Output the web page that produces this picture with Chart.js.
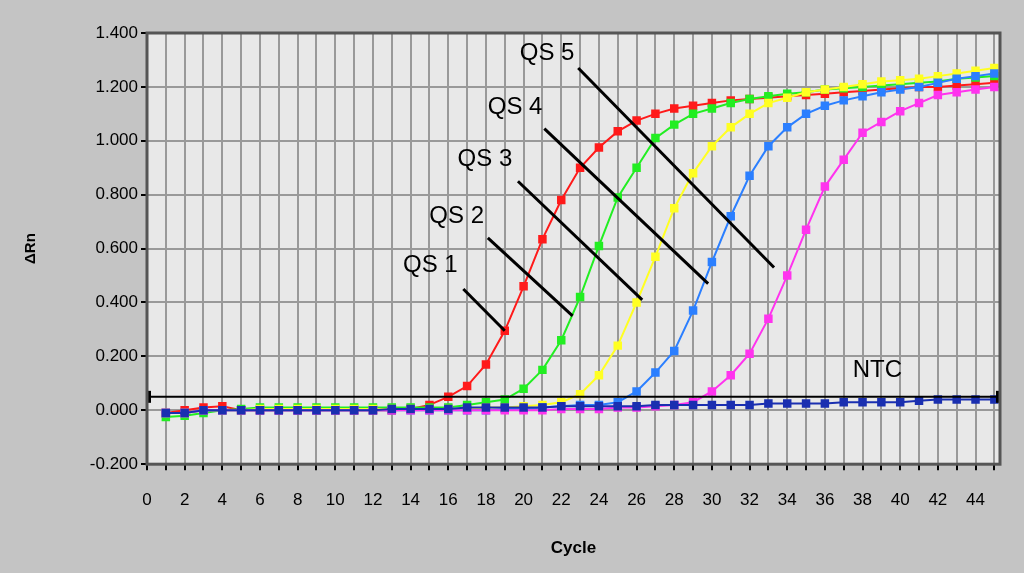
<!DOCTYPE html>
<html>
<head>
<meta charset="utf-8">
<script src="https://cdn.jsdelivr.net/npm/chart.js@4"></script>
<style>
  html, body { margin: 0; padding: 0; background: #c4c4c4; }
  #wrap { width: 1024px; height: 573px; }
</style>
</head>
<body>
<div id="wrap"><canvas id="chart" width="1024" height="573"></canvas></div>
<script>
// Data
const cycles = Array.from({ length: 45 }, (_, i) => i + 1);
const qs1 = [-0.01, 0.0, 0.01, 0.015, 0.0, 0.0, 0.0, 0.0, 0.0, 0.0, 0.0, 0.0, 0.0, 0.005, 0.02, 0.05, 0.09, 0.17, 0.295, 0.46, 0.635, 0.78, 0.9, 0.975, 1.035, 1.075, 1.1, 1.12, 1.13, 1.14, 1.15, 1.155, 1.16, 1.165, 1.17, 1.175, 1.18, 1.185, 1.19, 1.195, 1.2, 1.2, 1.205, 1.21, 1.215];
const qs2 = [-0.025, -0.02, -0.01, 0.0, 0.005, 0.01, 0.01, 0.01, 0.01, 0.01, 0.01, 0.01, 0.01, 0.01, 0.01, 0.01, 0.02, 0.03, 0.04, 0.08, 0.15, 0.26, 0.42, 0.61, 0.79, 0.9, 1.01, 1.06, 1.1, 1.12, 1.14, 1.155, 1.165, 1.175, 1.18, 1.19, 1.195, 1.2, 1.205, 1.21, 1.215, 1.22, 1.23, 1.235, 1.24];
const qs3 = [-0.01, -0.01, 0.0, 0.0, 0.0, 0.005, 0.005, 0.005, 0.005, 0.005, 0.005, 0.005, 0.005, 0.005, 0.005, 0.005, 0.005, 0.01, 0.01, 0.015, 0.02, 0.03, 0.06, 0.13, 0.24, 0.4, 0.57, 0.75, 0.88, 0.98, 1.05, 1.1, 1.14, 1.16, 1.18, 1.19, 1.2, 1.21, 1.22, 1.225, 1.23, 1.24, 1.25, 1.26, 1.27];
const qs4 = [-0.01, -0.01, 0.0, 0.0, 0.0, 0.0, 0.0, 0.0, 0.0, 0.0, 0.0, 0.0, 0.0, 0.0, 0.0, 0.0, 0.0, 0.0, 0.005, 0.005, 0.01, 0.015, 0.02, 0.02, 0.03, 0.07, 0.14, 0.22, 0.37, 0.55, 0.72, 0.87, 0.98, 1.05, 1.1, 1.13, 1.15, 1.165, 1.18, 1.19, 1.2, 1.215, 1.23, 1.24, 1.25];
const qs5 = [-0.01, -0.01, 0.0, 0.0, 0.0, 0.0, 0.0, 0.0, 0.0, 0.0, 0.0, 0.0, 0.0, 0.0, 0.0, 0.0, 0.0, 0.0, 0.0, 0.0, 0.0, 0.005, 0.005, 0.005, 0.01, 0.01, 0.015, 0.02, 0.03, 0.07, 0.13, 0.21, 0.34, 0.5, 0.67, 0.83, 0.93, 1.03, 1.07, 1.11, 1.14, 1.17, 1.18, 1.19, 1.2];
const ntc = [-0.01, -0.01, 0.0, 0.0, 0.0, 0.0, 0.0, 0.0, 0.0, 0.0, 0.0, 0.0, 0.005, 0.005, 0.005, 0.005, 0.01, 0.01, 0.01, 0.01, 0.01, 0.015, 0.015, 0.015, 0.015, 0.015, 0.02, 0.02, 0.02, 0.02, 0.02, 0.02, 0.025, 0.025, 0.025, 0.025, 0.03, 0.03, 0.03, 0.03, 0.035, 0.04, 0.04, 0.04, 0.04];
const threshold = 0.05;
const yTicks = [-0.2, 0, 0.2, 0.4, 0.6, 0.8, 1.0, 1.2, 1.4];

// Callout labels: text position and leader line in data units
const callouts = [
  { text: 'QS 1', tx: 16.5, ty: 0.495, x1: 16.8, y1: 0.45, x2: 19, y2: 0.295 },
  { text: 'QS 2', tx: 17.9, ty: 0.675, x1: 18.1, y1: 0.64, x2: 22.6, y2: 0.35 },
  { text: 'QS 3', tx: 19.4, ty: 0.885, x1: 19.7, y1: 0.85, x2: 26.3, y2: 0.41 },
  { text: 'QS 4', tx: 21.0, ty: 1.08, x1: 21.1, y1: 1.045, x2: 29.8, y2: 0.47 },
  { text: 'QS 5', tx: 22.7, ty: 1.28, x1: 22.9, y1: 1.27, x2: 33.3, y2: 0.53 },
  { text: 'NTC', tx: 40.1, ty: 0.105 }
];

const series = [
  { label: 'NTC', data: ntc, color: '#1a2fb0' },
  { label: 'QS 5', data: qs5, color: '#ff33ee' },
  { label: 'QS 4', data: qs4, color: '#2b7fff' },
  { label: 'QS 3', data: qs3, color: '#ffff22' },
  { label: 'QS 2', data: qs2, color: '#22ee22' },
  { label: 'QS 1', data: qs1, color: '#ff1a1a' }
];

// Plot background, threshold line and callouts
const decor = {
  id: 'decor',
  beforeDraw(chart) {
    const { ctx, chartArea: a } = chart;
    ctx.save();
    ctx.fillStyle = '#e8e8e8';
    ctx.fillRect(a.left, a.top, a.right - a.left, a.bottom - a.top);
    ctx.restore();
  },
  afterDatasetsDraw(chart) {
    const { ctx, chartArea: a, scales: { x, y } } = chart;
    ctx.save();
    const ty = y.getPixelForValue(threshold);
    ctx.strokeStyle = '#000';
    ctx.lineWidth = 2;
    ctx.beginPath(); ctx.moveTo(a.left, ty); ctx.lineTo(a.right, ty); ctx.stroke();
    ctx.fillStyle = '#000';
    ctx.fillRect(a.left - 1, ty - 6, 5, 12);
    ctx.fillRect(a.right - 4, ty - 6, 5, 12);
    ctx.lineWidth = 3;
    ctx.font = '24px Arial, "Liberation Sans", sans-serif';
    ctx.textAlign = 'right';
    ctx.textBaseline = 'bottom';
    callouts.forEach(c => {
      if (c.x1 !== undefined) {
        ctx.beginPath();
        ctx.moveTo(x.getPixelForValue(c.x1), y.getPixelForValue(c.y1));
        ctx.lineTo(x.getPixelForValue(c.x2), y.getPixelForValue(c.y2));
        ctx.stroke();
      }
      ctx.fillText(c.text, x.getPixelForValue(c.tx), y.getPixelForValue(c.ty));
    });
    ctx.strokeStyle = '#555';
    ctx.lineWidth = 3;
    ctx.strokeRect(a.left, a.top, a.right - a.left, a.bottom - a.top);
    ctx.restore();
  }
};

new Chart(document.getElementById('chart'), {
  type: 'line',
  data: {
    labels: cycles,
    datasets: series.map(s => ({
      label: s.label,
      data: s.data.map((v, i) => ({ x: cycles[i], y: v })),
      borderColor: s.color,
      backgroundColor: s.color,
      borderWidth: 2,
      pointStyle: 'rect',
      pointRadius: 6,
      pointBorderWidth: 0,
      tension: 0
    }))
  },
  options: {
    responsive: false,
    animation: false,
    layout: { padding: { top: 33, right: 24, bottom: 6, left: 18 } },
    plugins: { legend: { display: false }, tooltip: { enabled: false } },
    scales: {
      x: {
        type: 'linear',
        min: 0,
        max: 45.3,
        afterBuildTicks: axis => { axis.ticks = Array.from({ length: 46 }, (_, i) => ({ value: i })); },
        grid: { color: '#999', lineWidth: 2, drawTicks: true, tickLength: 6, tickColor: '#000' },
        border: { display: false },
        ticks: {
          autoSkip: false, maxRotation: 0, color: '#000', padding: 20,
          font: { family: 'Arial, "Liberation Sans", sans-serif', size: 17 },
          callback: v => (v % 2 === 0 ? String(v) : '')
        },
        title: { display: true, text: 'Cycle', color: '#000', font: { family: 'Arial, "Liberation Sans", sans-serif', size: 17, weight: 'bold' }, padding: { top: 8, bottom: 8 } }
      },
      y: {
        min: -0.2,
        max: 1.4,
        afterBuildTicks: axis => { axis.ticks = yTicks.map(v => ({ value: v })); },
        afterFit: axis => { axis.width = 129; },
        grid: { color: '#999', lineWidth: 2, tickLength: 6, tickColor: '#000' },
        border: { display: false },
        ticks: {
          color: '#000',
          font: { family: 'Arial, "Liberation Sans", sans-serif', size: 17 },
          callback: v => v.toFixed(3)
        },
        title: { display: true, text: 'ΔRn', color: '#000', font: { family: 'Arial, "Liberation Sans", sans-serif', size: 15, weight: 'bold' }, padding: { bottom: 12 } }
      }
    }
  },
  plugins: [decor]
});
</script>
</body>
</html>
